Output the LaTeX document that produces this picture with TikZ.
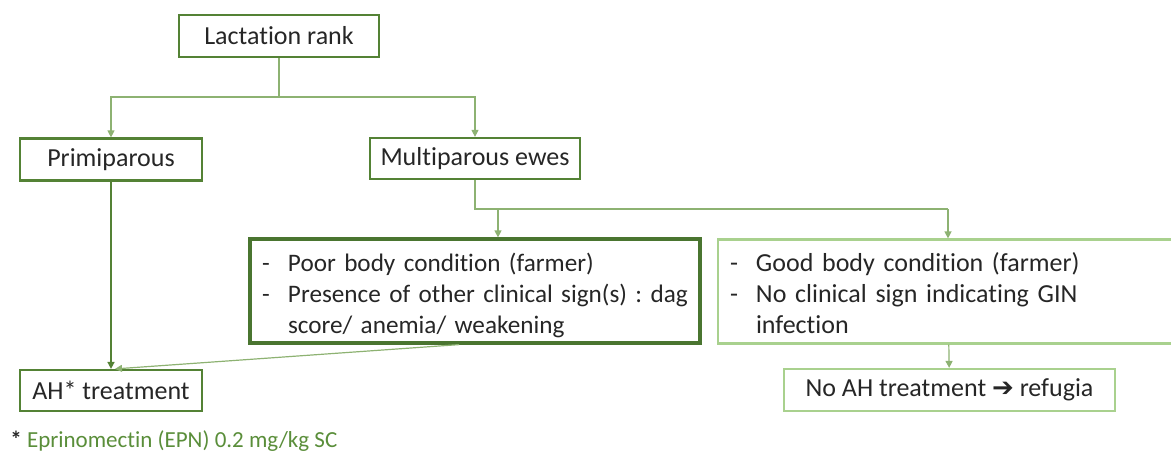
\documentclass[tikz,border=0pt]{standalone}
\usepackage{fontspec}
\setmainfont{Carlito}[Ligatures=NoCommon]
\newfontfamily\arrowfont{DejaVu Sans}
\usepackage{xcolor}
\usetikzlibrary{arrows.meta}
\definecolor{boxgreen}{HTML}{548235}
\definecolor{darkgreen}{HTML}{4A7530}
\definecolor{lightgreen}{HTML}{A9D18E}
\definecolor{linegreen}{HTML}{8DB272}
\definecolor{notegreen}{HTML}{5A8E3A}
\definecolor{inkgrey}{HTML}{262626}

\begin{document}
\frenchspacing
\begin{tikzpicture}[
  x=0.5pt, y=-0.5pt,
  box/.style={draw=boxgreen, line width=1.1pt, minimum height=21pt, inner sep=3pt,
    font=\fontsize{13}{15.5}\selectfont, text=inkgrey},
  listbox/.style={box, minimum height=52pt, text width=#1, align=left, inner xsep=6pt, inner ysep=0pt},
  link/.style={draw=linegreen, line width=0.6pt},
  >={Triangle[length=3.5pt, width=3.5pt]}
]
\useasboundingbox (0,0) rectangle (1171,455);

\node[box, minimum width=100pt] (rank) at (279,36) {Lactation rank};
\node[box, minimum width=91pt] (prim) at (111,159.5) {Primiparous};
\node[box, minimum width=105pt, minimum height=20.5pt] (multi) at (475,158.5) {Multiparous ewes};
\node[listbox=213pt, draw=darkgreen, line width=1.6pt, font=\fontsize{12.6}{15.5}\selectfont] (poor) at (475,291) {%
  \raisebox{-2.5pt}[\height][\depth]{\begin{tabular}{@{}p{13pt}@{}l@{}}
  - & Poor body condition (farmer)\\
  - & Presence of other clinical sign(s) : dag\\
    & score/ anemia/ weakening
  \end{tabular}}};
\node[listbox=218pt, draw=lightgreen] (good) at (948,291.5) {%
  \raisebox{-2.5pt}[\height][\depth]{\begin{tabular}{@{}p{13pt}@{}l@{}}
  - & Good body condition (farmer)\\
  - & No clinical sign indicating GIN\\
    & infection
  \end{tabular}}};
\node[box, minimum width=91pt, minimum height=20.5pt] (ah) at (111,390.5) {AH* treatment};
\node[box, draw=lightgreen, minimum width=165.5pt] (noah) at (949.5,390) {No AH treatment {\arrowfont\bfseries\fontsize{13}{13}\selectfont ➔} refugia};
\node[anchor=west, inner sep=0pt, font=\fontsize{11.5}{13}\selectfont, text=inkgrey] (note) at (10,441)
  {\textbf{*} \textcolor{notegreen}{Eprinomectin (EPN) 0.2 mg/kg SC}};

% connectors
\coordinate (rankfork) at (279,97);
\coordinate (ewefork) at (475,209);
\coordinate (poortap) at (498,209);
\coordinate (goodfork) at (948,209);

\draw[link] (rank) -- (rankfork);
\draw[link, ->] (rankfork) -| (prim);
\draw[link, ->] (rankfork) -| (multi);
\draw[link] (multi) -- (ewefork) -- (goodfork);
\draw[link, ->] (poortap) -- (poortap |- poor.north);
\draw[link, ->] (goodfork) -- (good);
\draw[link, ->, draw=boxgreen, line width=0.8pt] (prim) -- (ah);
\draw[link, ->] ([xshift=-8pt]poor.south) -- ([xshift=2pt]ah.north);
\draw[link, ->] (good) -- (noah);
\end{tikzpicture}
\end{document}
